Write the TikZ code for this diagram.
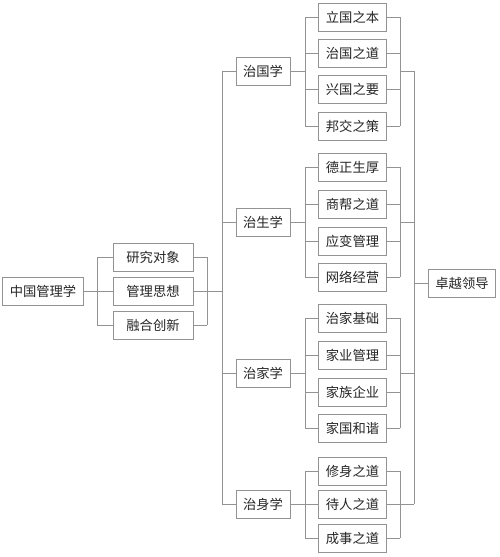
\documentclass[tikz,border=0pt]{standalone}
\usepackage{fontspec}
\newfontfamily\cjk{Noto Sans CJK SC}

\begin{document}
\begin{tikzpicture}[x=1pt, y=-1pt,
    caja/.style={draw=gray!85, line width=0.9pt, fill=white, inner xsep=7pt, inner ysep=0pt,
      minimum height=28pt, text=black!85, font=\cjk\fontsize{13.3}{15}\selectfont},
    linea/.style={draw=gray!85, line width=0.9pt}]
      \def\xi{97}
      \def\xd{207}
      \def\xt{222}
      \def\xs{305}
      \def\xr{400}
      \def\xf{414}

      \useasboundingbox (0,0) rectangle (500,557);

      % Raiz y aspectos
      \node[caja, minimum width=80pt] (raiz) at (43,291) {中国管理学};
      \foreach \n/\y/\t in {a1/257/研究对象, a2/291/管理思想, a3/325/融合创新}
        \node[caja, minimum width=80pt] (\n) at (153,\y) {\t};

      \coordinate (ji) at (\xi,291);
      \coordinate (jd) at (\xd,291);
      \coordinate (tronco) at (\xt,291);
      \draw[linea] (raiz) -- (ji);
      \draw[linea] (ji |- a1) -- (ji |- a3);
      \draw[linea] (jd |- a1) -- (jd |- a3);
      \draw[linea] (jd) -- (tronco);
      \foreach \n in {a1,a2,a3} {
        \draw[linea] (ji |- \n) -- (\n.west);
        \draw[linea] (\n.east) -- (jd |- \n);
      }

      % Grupos
      \foreach \n/\y/\t in {g1/71/治国学, g2/222/治生学, g3/373/治家学, g4/504/治身学}
        \node[caja, minimum width=52pt] (\n) at (263,\y) {\t};

      \coordinate (ti) at (\xt,71);
      \coordinate (tf) at (\xf,71);
      \draw[linea] (ti) -- (ti |- g4);
      \draw[linea] (tf) -- (tf |- g4);
      \foreach \n in {g1,g2,g3,g4}
        \draw[linea] (ti |- \n) -- (\n.west);

      % Hojas
      \foreach \g/\ya/\yb/\yc/\yd/\ta/\tb/\tc/\td in {
          g1/17/53/89/126/立国之本/治国之道/兴国之要/邦交之策,
          g2/167/204/241/277/德正生厚/商帮之道/应变管理/网络经营,
          g3/318/355/392/428/治家基础/家业管理/家族企业/家国和谐} {
        \node[caja, minimum width=67pt] (\g-1) at (352.5,\ya) {\ta};
        \node[caja, minimum width=67pt] (\g-2) at (352.5,\yb) {\tb};
        \node[caja, minimum width=67pt] (\g-3) at (352.5,\yc) {\tc};
        \node[caja, minimum width=67pt] (\g-4) at (352.5,\yd) {\td};
        \coordinate (\g-s) at (\xs,0);
        \coordinate (\g-r) at (\xr,0);
        \draw[linea] (\g.east) -- (\g-s |- \g);
        \draw[linea] (\g-s |- \g-1) -- (\g-s |- \g-4);
        \draw[linea] (\g-r |- \g-1) -- (\g-r |- \g-4);
        \draw[linea] (\g-r |- \g) -- (tf |- \g);
        \foreach \k in {1,2,3,4} {
          \draw[linea] (\g-s |- \g-\k) -- (\g-\k.west);
          \draw[linea] (\g-\k.east) -- (\g-r |- \g-\k);
        }
      }

      \foreach \k/\y/\t in {1/471/修身之道, 2/504/待人之道, 3/538/成事之道}
        \node[caja, minimum width=67pt] (g4-\k) at (352.5,\y) {\t};
      \coordinate (g4-s) at (\xs,0);
      \coordinate (g4-r) at (\xr,0);
      \draw[linea] (g4.east) -- (g4-2.west);
      \draw[linea] (g4-s |- g4-1) -- (g4-s |- g4-3);
      \draw[linea] (g4-r |- g4-1) -- (g4-r |- g4-3);
      \draw[linea] (g4-2.east) -- (tf |- g4);
      \foreach \k in {1,3} {
        \draw[linea] (g4-s |- g4-\k) -- (g4-\k.west);
        \draw[linea] (g4-\k.east) -- (g4-r |- g4-\k);
      }

      % Resultado
      \node[caja, minimum width=66pt] (final) at (462,283) {卓越领导};
      \draw[linea] (tf |- final) -- (final.west);
\end{tikzpicture}
\end{document}
